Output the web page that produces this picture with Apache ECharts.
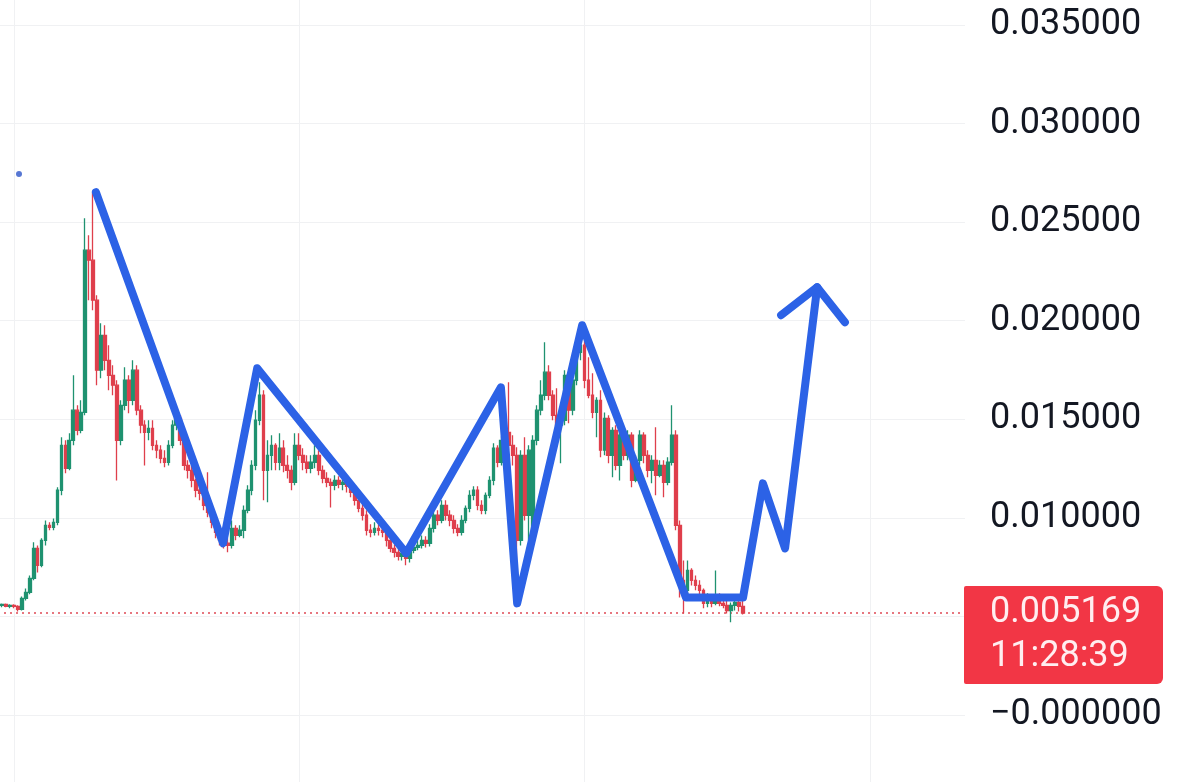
<!DOCTYPE html>
<html>
<head>
<meta charset="utf-8">
<script src="https://cdn.jsdelivr.net/npm/echarts@6/dist/echarts.min.js"></script>
<style>
html,body{margin:0;padding:0;background:#ffffff;}
#chart{width:1200px;height:782px;}
</style>
</head>
<body>
<div id="chart"></div>
<script>
// ---- candle data, one entry per bar ----
const opens = [
0.00561,0.00556,0.00561,0.00551,0.00556,0.00551,0.00536,0.00591,0.00622,0.00693,
0.00845,0.00759,0.00886,0.00962,0.00952,0.00977,0.01140,0.01368,0.01251,0.01393,
0.01546,0.01444,0.01535,0.02358,0.02307,0.02104,0.01749,0.01926,0.01799,0.01723,
0.01673,0.01393,0.01571,0.01698,0.01596,0.01749,0.01546,0.01470,0.01434,0.01454,
0.01368,0.01343,0.01302,0.01282,0.01368,0.01470,0.01505,0.01393,0.01266,0.01241,
0.01190,0.01140,0.01124,0.01063,0.01028,0.00977,0.00926,0.00886,0.00871,0.00860,
0.00947,0.00911,0.00937,0.01038,0.01140,0.01266,0.01495,0.01622,0.01241,0.01317,
0.01368,0.01282,0.01353,0.01266,0.01241,0.01180,0.01368,0.01317,0.01282,0.01251,
0.01282,0.01317,0.01241,0.01200,0.01180,0.01165,0.01190,0.01170,0.01180,0.01160,
0.01129,0.01089,0.01048,0.01013,0.00937,0.00926,0.00947,0.00937,0.00926,0.00886,
0.00845,0.00825,0.00805,0.00820,0.00794,0.00835,0.00850,0.00860,0.00886,0.00871,
0.00947,0.01013,0.00987,0.01063,0.01013,0.00987,0.00947,0.00926,0.00987,0.01048,
0.01114,0.01140,0.01063,0.01038,0.01114,0.01190,0.01353,0.01282,0.01393,0.01434,
0.01368,0.01317,0.00886,0.01317,0.01013,0.00911,0.01393,0.01546,0.01622,0.01739,
0.01622,0.01520,0.01470,0.01495,0.01723,0.01546,0.01698,0.01840,0.01876,0.01698,
0.01622,0.01535,0.01596,0.01343,0.01505,0.01317,0.01444,0.01266,0.01419,0.01317,
0.01419,0.01190,0.01292,0.01419,0.01317,0.01241,0.01292,0.01216,0.01266,0.01180,
0.01282,0.01419,0.00962,0.00683,0.00632,0.00733,0.00683,0.00657,0.00632,0.00566,
0.00591,0.00566,0.00591,0.00566,0.00556,0.00530,0.00556,0.00571,0.00551
];
const closes = [
0.00556,0.00561,0.00551,0.00556,0.00551,0.00536,0.00591,0.00622,0.00693,0.00845,
0.00759,0.00886,0.00962,0.00952,0.00977,0.01140,0.01368,0.01251,0.01393,0.01546,
0.01444,0.01535,0.02358,0.02307,0.02104,0.01749,0.01926,0.01799,0.01723,0.01673,
0.01393,0.01571,0.01698,0.01596,0.01749,0.01546,0.01470,0.01434,0.01454,0.01368,
0.01343,0.01302,0.01282,0.01368,0.01470,0.01505,0.01393,0.01266,0.01241,0.01190,
0.01140,0.01124,0.01063,0.01028,0.00977,0.00926,0.00886,0.00871,0.00860,0.00947,
0.00911,0.00937,0.01038,0.01140,0.01266,0.01495,0.01622,0.01241,0.01317,0.01368,
0.01282,0.01353,0.01266,0.01241,0.01180,0.01368,0.01317,0.01282,0.01251,0.01282,
0.01317,0.01241,0.01200,0.01180,0.01165,0.01190,0.01170,0.01180,0.01160,0.01129,
0.01089,0.01048,0.01013,0.00937,0.00926,0.00947,0.00937,0.00926,0.00886,0.00845,
0.00825,0.00805,0.00820,0.00794,0.00835,0.00850,0.00860,0.00886,0.00871,0.00947,
0.01013,0.00987,0.01063,0.01013,0.00987,0.00947,0.00926,0.00987,0.01048,0.01114,
0.01140,0.01063,0.01038,0.01114,0.01190,0.01353,0.01282,0.01393,0.01434,0.01368,
0.01317,0.00886,0.01317,0.01013,0.01343,0.01393,0.01546,0.01622,0.01739,0.01622,
0.01520,0.01470,0.01495,0.01723,0.01546,0.01698,0.01840,0.01876,0.01698,0.01622,
0.01535,0.01596,0.01343,0.01505,0.01317,0.01444,0.01266,0.01419,0.01317,0.01419,
0.01190,0.01292,0.01419,0.01317,0.01241,0.01292,0.01216,0.01266,0.01180,0.01282,
0.01419,0.00962,0.00683,0.00632,0.00733,0.00683,0.00657,0.00632,0.00566,0.00591,
0.00566,0.00591,0.00566,0.00556,0.00530,0.00556,0.00571,0.00551,0.005169
];
const highs = [
0.00571,0.00566,0.00566,0.00561,0.00561,0.00556,0.00601,0.00642,0.00708,0.00876,
0.00860,0.00896,0.00987,0.00977,0.00997,0.01155,0.01409,0.01393,0.01429,0.01723,
0.01571,0.01596,0.02520,0.02434,0.02652,0.02129,0.01987,0.01977,0.01876,0.01774,
0.01698,0.01596,0.01764,0.01723,0.01799,0.01774,0.01571,0.01495,0.01495,0.01495,
0.01393,0.01368,0.01343,0.01393,0.01495,0.01535,0.01520,0.01419,0.01292,0.01266,
0.01200,0.01165,0.01150,0.01231,0.01063,0.00997,0.00947,0.00911,0.00896,0.00987,
0.00962,0.00962,0.01063,0.01165,0.01292,0.01546,0.01688,0.01647,0.01393,0.01419,
0.01378,0.01429,0.01393,0.01317,0.01266,0.01429,0.01429,0.01353,0.01317,0.01317,
0.01368,0.01343,0.01266,0.01231,0.01200,0.01216,0.01211,0.01200,0.01200,0.01180,
0.01150,0.01114,0.01074,0.01038,0.00967,0.00977,0.00967,0.00962,0.00947,0.00906,
0.00865,0.00845,0.00845,0.00845,0.00860,0.00876,0.00886,0.00911,0.00906,0.00967,
0.01038,0.01038,0.01089,0.01089,0.01038,0.01013,0.00967,0.01013,0.01063,0.01140,
0.01160,0.01160,0.01089,0.01129,0.01211,0.01378,0.01368,0.01414,0.01470,0.01688,
0.01419,0.01358,0.01343,0.01409,0.01368,0.01419,0.01571,0.01698,0.01891,0.01774,
0.01647,0.01657,0.01520,0.01749,0.01739,0.01723,0.01860,0.01911,0.01901,0.01815,
0.01733,0.01612,0.01647,0.01535,0.01520,0.01459,0.01470,0.01444,0.01429,0.01444,
0.01434,0.01317,0.01444,0.01434,0.01343,0.01317,0.01459,0.01292,0.01292,0.01307,
0.01571,0.01444,0.00987,0.00784,0.00784,0.00744,0.00708,0.00683,0.00642,0.00617,
0.00612,0.00733,0.00617,0.00596,0.00581,0.00571,0.00596,0.00591,0.00581
];
const lows = [
0.00546,0.00546,0.00546,0.00541,0.00541,0.00525,0.00530,0.00581,0.00612,0.00683,
0.00723,0.00749,0.00860,0.00937,0.00937,0.00962,0.01114,0.01226,0.01241,0.01368,
0.01419,0.01429,0.01520,0.02104,0.02053,0.01673,0.01708,0.01749,0.01647,0.01622,
0.01190,0.01368,0.01546,0.01530,0.01571,0.01520,0.01429,0.01266,0.01393,0.01343,
0.01302,0.01277,0.01256,0.01266,0.01353,0.01444,0.01368,0.01241,0.01200,0.01155,
0.01104,0.01089,0.01038,0.01003,0.00947,0.00896,0.00860,0.00845,0.00825,0.00845,
0.00886,0.00901,0.00896,0.01023,0.01114,0.01241,0.01470,0.01089,0.01079,0.01241,
0.01241,0.01241,0.01231,0.01200,0.01140,0.01165,0.01292,0.01241,0.01226,0.01226,
0.01251,0.01216,0.01175,0.01155,0.01053,0.01140,0.01150,0.01140,0.01129,0.01104,
0.01063,0.01028,0.00987,0.00911,0.00901,0.00911,0.00911,0.00901,0.00855,0.00825,
0.00799,0.00784,0.00784,0.00759,0.00774,0.00820,0.00835,0.00845,0.00850,0.00855,
0.00926,0.00962,0.00972,0.00987,0.00957,0.00921,0.00906,0.00911,0.00972,0.01028,
0.01089,0.01038,0.01018,0.01018,0.01099,0.01165,0.01256,0.01266,0.01317,0.01343,
0.01266,0.00759,0.00860,0.00987,0.00886,0.00845,0.01368,0.01520,0.01596,0.01596,
0.01495,0.01434,0.01277,0.01470,0.01480,0.01520,0.01673,0.01799,0.01657,0.01607,
0.01505,0.01409,0.01307,0.01317,0.01277,0.01206,0.01241,0.01190,0.01292,0.01292,
0.01155,0.01180,0.01266,0.01277,0.01206,0.01175,0.01114,0.01206,0.01104,0.01165,
0.01266,0.00937,0.00596,0.00515,0.00607,0.00657,0.00632,0.00607,0.00541,0.00546,
0.00546,0.00556,0.00551,0.00541,0.00515,0.00470,0.00530,0.00525,0.00510
];
const barSlots = 245;               // bars the visible time range holds (incl. empty future space)
const lastPrice = 0.005169;
const priceLabel = '0.005169';
const timeLabel = '11:28:39';

// ---- hand-drawn overlay (position in bar units, price) ----
const drawX = [24.7, 56.8, 65.4, 103.0, 126.9, 131.0, 147.4, 173.6, 188.0, 193.0, 198.6, 206.7, 213.7];
const drawY = [0.02652, 0.00871, 0.01759, 0.00820, 0.01662, 0.00566, 0.01977, 0.00596, 0.00596, 0.01175, 0.00845, 0.02170, 0.01992];
const arrowX = [197.6, 206.7];
const arrowY = [0.02028, 0.02170];
const dotX = [5.3];
const dotY = [0.02744];

// ---- y-axis ticks ----
const yMin = -0.005, yMax = 0.040, yStep = 0.005;
const hiddenTicks = [0.005];        // covered by the price label

// ---- build ----
const categories = [];
for (let i = 0; i < barSlots; i++) categories.push(String(i));
const candleData = opens.map((o, i) => [o, closes[i], lows[i], highs[i]]);
const zig = drawX.map((x, i) => [x, drawY[i]]);
const arrow = arrowX.map((x, i) => [x, arrowY[i]]);
const dots = dotX.map((x, i) => [x, dotY[i]]);
const priceLine = [[0, lastPrice], [barSlots - 1, lastPrice]];

const chart = echarts.init(document.getElementById('chart'), null, {renderer: 'canvas'});
const FONT = 'Roboto, "Noto Sans", sans-serif';
const option = {
  backgroundColor: '#ffffff',
  animation: false,
  grid: {left: -2, right: 235, top: -73.5, bottom: -31.5, containLabel: false, outerBoundsMode: 'none'},
  xAxis: [
    {
      type: 'category', data: categories, boundaryGap: false,
      axisLine: {show: false}, axisTick: {show: false}, axisLabel: {show: false},
      splitLine: {show: true, interval: (idx) => (idx - 4) % 72 === 0, lineStyle: {color: '#f0f1f3', width: 1}}
    },
    {
      type: 'value', min: 0, max: barSlots - 1, show: false,
      splitLine: {show: false}
    }
  ],
  yAxis: {
    type: 'value', position: 'right', min: yMin, max: yMax, interval: yStep,
    axisLine: {show: false}, axisTick: {show: false},
    splitLine: {show: true, lineStyle: {color: '#f0f1f3', width: 1}},
    axisLabel: {
      margin: 25, color: '#131722', fontSize: 36, fontFamily: FONT, align: 'left',
      formatter: (v) => {
        if (hiddenTicks.some(t => Math.abs(t - v) < 1e-9)) return '';
        if (Math.abs(v) < 1e-9) return '\u22120.000000';
        return v.toFixed(6);
      }
    }
  },
  series: [
    {
      type: 'line', xAxisIndex: 1, yAxisIndex: 0, data: priceLine, symbol: 'none', silent: true,
      lineStyle: {color: '#e04a55', type: [2, 4], width: 1.6}, z: 1
    },
    {
      type: 'candlestick', xAxisIndex: 0, yAxisIndex: 0, data: candleData,
      barWidth: 3.2,
      itemStyle: {color: '#1f9270', color0: '#df3f4c', borderColor: '#1f9270', borderColor0: '#df3f4c', borderWidth: 1.3},
      z: 2
    },
    {
      type: 'line', xAxisIndex: 1, yAxisIndex: 0, data: zig, symbol: 'none',
      lineStyle: {color: '#2c62e6', width: 8, cap: 'round', join: 'round'}, z: 5
    },
    {
      type: 'line', xAxisIndex: 1, yAxisIndex: 0, data: arrow, symbol: 'none',
      lineStyle: {color: '#2c62e6', width: 8, cap: 'round', join: 'round'}, z: 5
    },
    {
      type: 'scatter', xAxisIndex: 1, yAxisIndex: 0, data: dots, symbolSize: 6,
      itemStyle: {color: '#2d55c8'}, z: 5
    }
  ]
};
chart.setOption(option);

const py = chart.convertToPixel({yAxisIndex: 0}, lastPrice);
chart.setOption({
  graphic: [
    {type: 'rect', z: 100, shape: {x: 964, y: py - 27, width: 199, height: 98, r: [2, 6, 6, 2]}, style: {fill: '#f23645'}},
    {type: 'text', z: 101, x: 990, y: py, style: {text: priceLabel, font: '36px ' + FONT, fill: '#ffeef0', align: 'left', verticalAlign: 'middle'}},
    {type: 'text', z: 101, x: 990, y: py + 44, style: {text: timeLabel, font: '36px ' + FONT, fill: '#ffeef0', align: 'left', verticalAlign: 'middle'}}
  ]
});
</script>
</body>
</html>
